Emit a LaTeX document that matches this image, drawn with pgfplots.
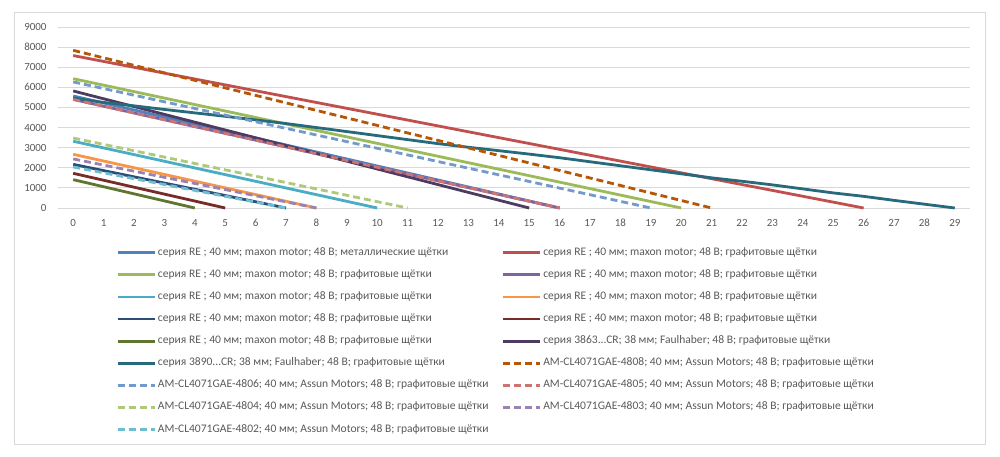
\documentclass[border=0pt]{standalone}
\usepackage{fontspec}
\setmainfont{Carlito}
\usepackage{pgfplots}
\pgfplotsset{compat=1.18}
\definecolor{c1}{HTML}{4F81BD}
\definecolor{c2}{HTML}{C0504D}
\definecolor{c3}{HTML}{9BBB59}
\definecolor{c4}{HTML}{8064A2}
\definecolor{c5}{HTML}{4BACC6}
\definecolor{c6}{HTML}{F79646}
\definecolor{c7}{HTML}{2C4D75}
\definecolor{c8}{HTML}{772C2A}
\definecolor{c9}{HTML}{5F7530}
\definecolor{c10}{HTML}{4D3B62}
\definecolor{c11}{HTML}{276A7C}
\definecolor{c12}{HTML}{B65708}
\definecolor{c13}{HTML}{729ACA}
\definecolor{c14}{HTML}{CD7371}
\definecolor{c15}{HTML}{AFC97A}
\definecolor{c16}{HTML}{9983B5}
\definecolor{c17}{HTML}{6FBDD1}
\definecolor{txt}{HTML}{595959}
\definecolor{gridc}{HTML}{D9D9D9}
\definecolor{framec}{HTML}{D9D9D9}
\begin{document}
\begin{tikzpicture}
\path (0bp,0bp) rectangle (1000bp,457bp);
\draw[color=framec, line width=0.75bp] (14.5bp,12.5bp) rectangle (985.5bp,444.5bp);
\begin{axis}[
  at={(58bp,249bp)}, anchor=south west,
  scale only axis, width=912bp, height=181bp,
  xmin=-0.5, xmax=29.5, ymin=0, ymax=9000,
  xtick={0,1,...,29}, ytick={0,1000,...,9000},
  ymajorgrids, grid style={color=gridc, line width=0.8bp},
  axis line style={draw=none}, major tick length=0pt,
  tick label style={font=\fontsize{11}{13}\selectfont, color=txt},
  /pgf/number format/assume math mode=true,
  scaled y ticks=false, yticklabel style={/pgf/number format/1000 sep={}, xshift=-8bp},
  xticklabel style={anchor=base, yshift=-18bp},
  clip=false,
  every axis plot/.append style={line width=2.8bp, line join=round},
  legend columns=2,
  legend cell align=left,
  legend image code/.code={\draw[#1] (0bp,0bp) -- (37bp,0bp);},
  legend style={at={(axis description cs:0.0603,-0.205)}, anchor=north west,
    draw=none, fill=none, font=\fontsize{11.6}{13}\selectfont, text=txt,
    row sep=11.1bp, nodes={inner sep=0pt, text height=8bp, text depth=3bp},
    /tikz/every odd column/.style={column sep=2bp},
    /tikz/every even column/.style={column sep=13bp}},
]
\addplot[c1] coordinates {(0,5570) (16,0)};
\addlegendentry{серия RE ; 40 мм; maxon motor; 48 В; металлические щётки}
\addplot[c2] coordinates {(0,7580) (26,0)};
\addlegendentry{серия RE ; 40 мм; maxon motor; 48 В; графитовые щётки}
\addplot[c3] coordinates {(0,6430) (20,0)};
\addlegendentry{серия RE ; 40 мм; maxon motor; 48 В; графитовые щётки}
\addplot[c4] coordinates {(0,5400) (16,0)};
\addlegendentry{серия RE ; 40 мм; maxon motor; 48 В; графитовые щётки}
\addplot[c5] coordinates {(0,3320) (10,0)};
\addlegendentry{серия RE ; 40 мм; maxon motor; 48 В; графитовые щётки}
\addplot[c6] coordinates {(0,2670) (8,0)};
\addlegendentry{серия RE ; 40 мм; maxon motor; 48 В; графитовые щётки}
\addplot[c7] coordinates {(0,2170) (7,0)};
\addlegendentry{серия RE ; 40 мм; maxon motor; 48 В; графитовые щётки}
\addplot[c8] coordinates {(0,1725) (5,0)};
\addlegendentry{серия RE ; 40 мм; maxon motor; 48 В; графитовые щётки}
\addplot[c9] coordinates {(0,1410) (4,0)};
\addlegendentry{серия RE ; 40 мм; maxon motor; 48 В; графитовые щётки}
\addplot[c10] coordinates {(0,5820) (15,0)};
\addlegendentry{серия 3863...CR; 38 мм; Faulhaber; 48 В; графитовые щётки}
\addplot[c11] coordinates {(0,5470) (1,5250) (2,5080) (3,4900) (4,4730) (5,4560) (6,4380) (7,4200) (8,4000) (9,3800) (10,3600) (11,3400) (12,3200) (13,3020) (14,2850) (15,2680) (16,2500) (17,2300) (18,2100) (19,1900) (20,1700) (21,1500) (22,1330) (23,1150) (24,950) (25,750) (26,580) (27,380) (28,190) (29,0)};
\addlegendentry{серия 3890...CR; 38 мм; Faulhaber; 48 В; графитовые щётки}
\addplot[c12, dash pattern=on 7bp off 4bp] coordinates {(0,7840) (21,0)};
\addlegendentry{AM-CL4071GAE-4808; 40 мм; Assun Motors; 48 В; графитовые щётки}
\addplot[c13, dash pattern=on 7bp off 4bp] coordinates {(0,6270) (19,0)};
\addlegendentry{AM-CL4071GAE-4806; 40 мм; Assun Motors; 48 В; графитовые щётки}
\addplot[c14, dash pattern=on 7bp off 4bp] coordinates {(0,5400) (16,0)};
\addlegendentry{AM-CL4071GAE-4805; 40 мм; Assun Motors; 48 В; графитовые щётки}
\addplot[c15, dash pattern=on 7bp off 4bp] coordinates {(0,3480) (11,0)};
\addlegendentry{AM-CL4071GAE-4804; 40 мм; Assun Motors; 48 В; графитовые щётки}
\addplot[c16, dash pattern=on 7bp off 4bp] coordinates {(0,2440) (8,0)};
\addlegendentry{AM-CL4071GAE-4803; 40 мм; Assun Motors; 48 В; графитовые щётки}
\addplot[c17, dash pattern=on 7bp off 4bp] coordinates {(0,2040) (7,0)};
\addlegendentry{AM-CL4071GAE-4802; 40 мм; Assun Motors; 48 В; графитовые щётки}
\end{axis}
\end{tikzpicture}
\end{document}
